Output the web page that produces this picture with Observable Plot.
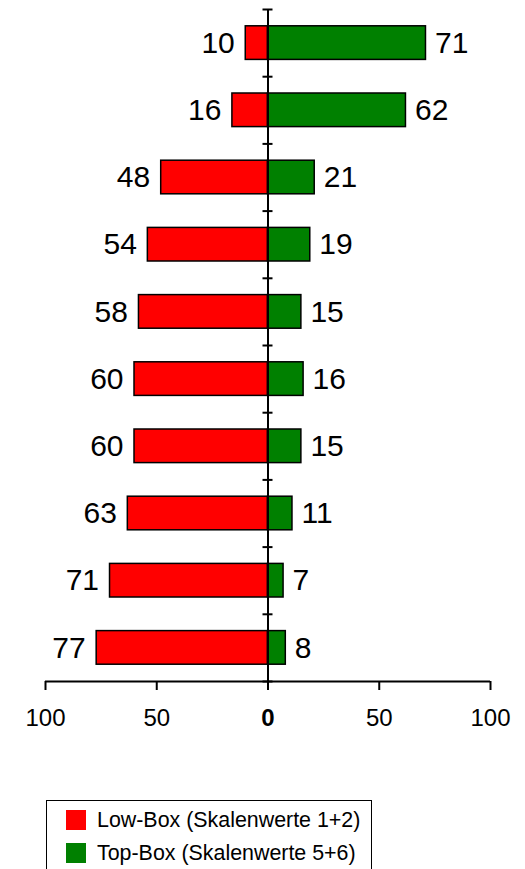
<!DOCTYPE html>
<html><head><meta charset="utf-8">
<script src="https://cdn.jsdelivr.net/npm/d3@7"></script>
<script src="https://cdn.jsdelivr.net/npm/@observablehq/plot@0.6"></script>
<style>
body{margin:0;background:#fff;font-family:"Liberation Sans",Arial,sans-serif;}
#wrap{position:relative;width:525px;height:869px;overflow:hidden;background:#fff}
#legend{position:absolute;left:46px;top:800px;width:326px;height:80px;border:1px solid #000;box-sizing:border-box;background:#fff}
.row{position:absolute;left:0;height:20px;display:flex;align-items:center;font-size:21.4px;color:#000;white-space:nowrap}
.sw{width:20px;height:20px;margin-left:19px;margin-right:11px;flex:none}
</style></head><body><div id="wrap"><div id="chart"></div><div id="legend"></div></div>
<script>
const categories = ["1","2","3","4","5","6","7","8","9","10"];
const lowBox = [10,16,48,54,58,60,60,63,71,77];
const topBox = [71,62,21,19,15,16,15,11,7,8];
const xTicks = [-100,-50,0,50,100];
const seriesNames = ["Low-Box (Skalenwerte 1+2)","Top-Box (Skalenwerte 5+6)"];
const seriesColors = ["#ff0000","#008000"];

const rows = categories.map((c,i)=>({cat:c, i, low: lowBox[i], top: topBox[i]}));
const bounds = d3.range(categories.length+1);
const n = categories.length;
const font = '"Liberation Sans", Arial, sans-serif';

const chart = Plot.plot({
  width:525, height:760, marginLeft:45, marginRight:35, marginTop:9, marginBottom:79,
  x:{domain:[-100,100], axis:null},
  y:{domain:[0,n], reverse:true, axis:null},
  style:{fontFamily:font, background:"white", color:"black", overflow:"visible"},
  marks:[
    Plot.rect(rows,{x1:d=>-d.low, x2:0, y1:d=>d.i+0.25, y2:d=>d.i+0.75, fill:seriesColors[0], stroke:"#000", strokeWidth:1.5}),
    Plot.rect(rows,{x1:0, x2:d=>d.top, y1:d=>d.i+0.25, y2:d=>d.i+0.75, fill:seriesColors[1], stroke:"#000", strokeWidth:1.5}),
    Plot.ruleX([0],{y1:0, y2:n, stroke:"#000", strokeWidth:2}),
    Plot.ruleY(bounds,{y:d=>d, x1:0, x2:0, insetLeft:-5, insetRight:-5, stroke:"#000", strokeWidth:2}),
    Plot.ruleY([n],{x1:-100, x2:100, stroke:"#000", strokeWidth:2}),
    Plot.axisX(xTicks,{anchor:"bottom", tickSize:9, tickPadding:18, fontSize:24, tickFormat:d=>String(Math.abs(d)), label:null, stroke:"#000", strokeWidth:2, fill:"#000"}),
    Plot.text(rows,{x:d=>-d.low, y:d=>d.i+0.5, text:d=>String(d.low), textAnchor:"end", dx:-11, fontSize:30, fill:"#000"}),
    Plot.text(rows,{x:d=>d.top, y:d=>d.i+0.5, text:d=>String(d.top), textAnchor:"start", dx:9, fontSize:30, fill:"#000"})
  ]
});
d3.select(chart).selectAll("text").filter(function(){return this.textContent==="0";}).attr("font-weight","bold");
document.getElementById("chart").appendChild(chart);

const legend = d3.select("#legend");
seriesNames.forEach((name,k)=>{
  const r = legend.append("div").attr("class","row").style("top",(9+k*33)+"px");
  r.append("div").attr("class","sw").style("background",seriesColors[k]);
  r.append("span").text(name);
});
</script></body></html>
